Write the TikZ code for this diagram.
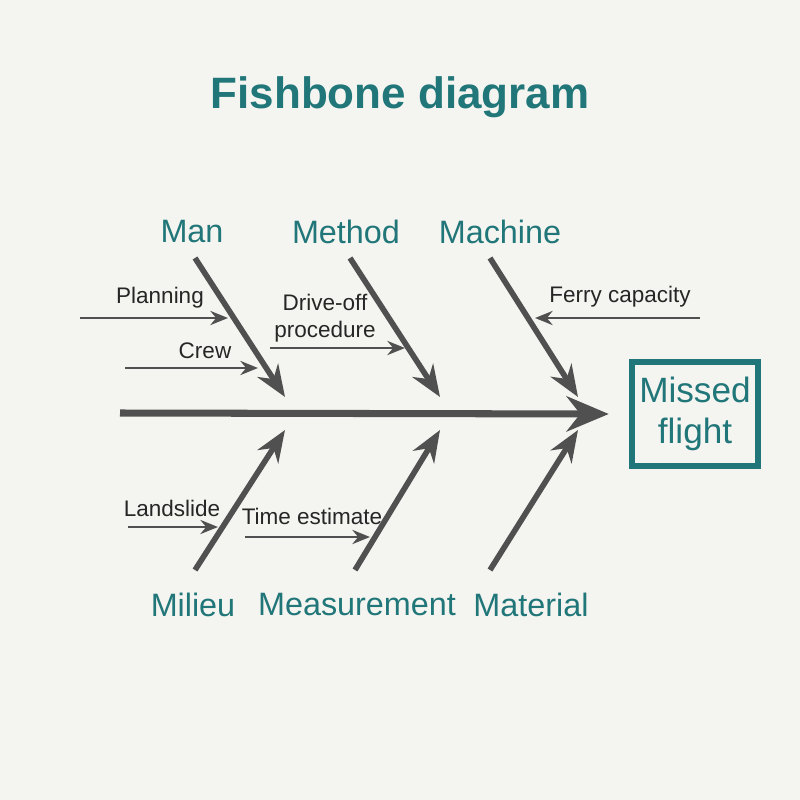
\documentclass[tikz,border=0pt]{standalone}
\usepackage{fontspec}
\setmainfont{Liberation Sans}
\usetikzlibrary{arrows.meta, positioning}
\definecolor{bgcolor}{RGB}{244, 244, 240}
\definecolor{titlecolor}{RGB}{32, 118, 120}
\definecolor{bonecolor}{RGB}{80, 80, 80}

\begin{document}
\begin{tikzpicture}[
  x=0.01cm, y=-0.01cm,
  cause/.style = {
    font=\fontsize{9.2}{11}\selectfont,
    text = titlecolor
  },
  sub/.style = {
    font=\fontsize{6.4}{7.6}\selectfont,
    text = black!85,
    align = center
  },
  bone/.style = {
    -{Stealth[length=9pt, width=7pt]},
    draw = bonecolor,
    line width = 1.6pt
  },
  twig/.style = {
    -{Stealth[length=5pt, width=4pt]},
    draw = bonecolor,
    line width = 0.8pt
  }
]
\fill[bgcolor] (0,0) rectangle (800,800);
\useasboundingbox (0,0) rectangle (800,800);

% Title and effect
\node[font=\fontsize{12.5}{14}\selectfont\bfseries, text=titlecolor] (title) at (400,97) {Fishbone diagram};
\node[draw=titlecolor, line width=1.8pt, minimum width=1.26cm, minimum height=1.04cm, text=titlecolor,
  font=\fontsize{10}{11.5}\selectfont, align=center, inner sep=2pt] (effect) at (695,414) {Missed\\flight};

% Spine
\coordinate (tail) at (120,413);
\draw[bone, -{Stealth[length=12pt, width=10pt]}, line width=2pt] (tail) -- ([xshift=-0.2cm]effect.west);

% Causes
\node[cause] (man) at (192,232) {Man};
\node[cause] (method) at (346,232) {Method};
\node[cause] (machine) at (500,232) {Machine};
\node[cause] (milieu) at (193,605) {Milieu};
\node[cause] (measurement) at (357,605) {Measurement};
\node[cause] (material) at (531,605) {Material};

\coordinate (manA) at (195,258);  \coordinate (manB) at (285,397);
\coordinate (metA) at (350,258);  \coordinate (metB) at (440,397);
\coordinate (macA) at (490,258);  \coordinate (macB) at (578,397);
\coordinate (milA) at (195,570);  \coordinate (milB) at (285,430);
\coordinate (measA) at (355,570); \coordinate (measB) at (440,430);
\coordinate (matA) at (490,570);  \coordinate (matB) at (578,430);

\draw[bone] (manA) -- (manB);
\draw[bone] (metA) -- (metB);
\draw[bone] (macA) -- (macB);
\draw[bone] (milA) -- (milB);
\draw[bone] (measA) -- (measB);
\draw[bone] (matA) -- (matB);

% Sub causes
\node[sub] (planning) at (160,298) {Planning};
\node[sub] (crew) at (205,351) {Crew};
\node[sub] (driveoff) at (325,318) {Drive-off\\procedure};
\node[sub] (ferry) at (620,297) {Ferry capacity};
\node[sub] (landslide) at (172,508) {Landslide};
\node[sub] (timeest) at (312,516) {Time estimate};

\coordinate (p1) at (80,318);  \coordinate (p2) at (228,318);
\coordinate (c1) at (125,368); \coordinate (c2) at (258,368);
\coordinate (d1) at (270,348); \coordinate (d2) at (405,348);
\coordinate (f1) at (700,318); \coordinate (f2) at (535,318);
\coordinate (l1) at (128,527); \coordinate (l2) at (218,527);
\coordinate (t1) at (245,537); \coordinate (t2) at (370,537);

\draw[twig] (p1) -- (p2);
\draw[twig] (c1) -- (c2);
\draw[twig] (d1) -- (d2);
\draw[twig] (f1) -- (f2);
\draw[twig] (l1) -- (l2);
\draw[twig] (t1) -- (t2);

\end{tikzpicture}
\end{document}
